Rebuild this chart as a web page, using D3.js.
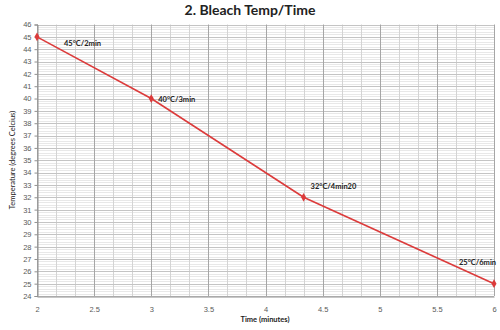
<!DOCTYPE html>
<html>
<head>
<meta charset="utf-8">
<script src="https://cdn.jsdelivr.net/npm/d3@7"></script>
<style>
  html, body { margin: 0; padding: 0; background: #fff; }
  svg { display: block; font-family: Lato, "Open Sans", "Liberation Sans", sans-serif; }
</style>
</head>
<body>
<svg id="chart" width="500" height="330"></svg>
<script>
// Bleach step: temperature against elapsed time
const times = [2, 3, 4 + 20 / 60, 6];
const temps = [45, 40, 32, 25];
const pointLabels = ["45°C/2min", "40°C/3min", "32°C/4min20", "25°C/6min"];
const xTicks = [2, 2.5, 3, 3.5, 4, 4.5, 5, 5.5, 6];
const yTicks = d3.range(24, 47, 1);

const svg = d3.select("#chart");
const margin = { left: 37, right: 6, top: 24.5, bottom: 34 };
const W = 500, H = 330;

const x = d3.scaleLinear().domain([2, 6]).range([margin.left, W - margin.right]);
const y = d3.scaleLinear().domain([24, 46]).range([H - margin.bottom, margin.top]);

// minor gridlines: every 10 seconds across, every 0.2 degree up
const g = svg.append("g");
const minorX = d3.range(0, 25).map(i => 2 + i / 6).filter(v => Math.abs((v * 2) - Math.round(v * 2)) > 1e-6);
const minorY = d3.range(0, 111).map(i => 24 + i * 0.2).filter(v => Math.abs(v - Math.round(v)) > 1e-6);

g.selectAll(".minY").data(minorY).join("line")
  .attr("x1", x(2)).attr("x2", x(6))
  .attr("y1", d => Math.round(y(d)) + 0.5).attr("y2", d => Math.round(y(d)) + 0.5)
  .attr("stroke", "#e8e8e8").attr("stroke-width", 1);
g.selectAll(".minX").data(minorX).join("line")
  .attr("y1", y(24)).attr("y2", y(46))
  .attr("x1", d => Math.round(x(d)) + 0.5).attr("x2", d => Math.round(x(d)) + 0.5)
  .attr("stroke", "#d4d4d4").attr("stroke-width", 1);

// major gridlines
g.selectAll(".majY").data(yTicks).join("line")
  .attr("x1", x(2)).attr("x2", x(6))
  .attr("y1", d => Math.round(y(d)) + 0.5).attr("y2", d => Math.round(y(d)) + 0.5)
  .attr("stroke", "#c4c4c4").attr("stroke-width", 1);
g.selectAll(".majX").data(xTicks).join("line")
  .attr("y1", y(24)).attr("y2", y(46))
  .attr("x1", d => Math.round(x(d)) + 0.5).attr("x2", d => Math.round(x(d)) + 0.5)
  .attr("stroke", "#a6a6a6").attr("stroke-width", 1);

// axes
const yAxis = d3.axisLeft(y).tickValues(yTicks).tickSize(3).tickPadding(3).tickFormat(d3.format("d"));
const xAxis = d3.axisBottom(x).tickValues(xTicks).tickSize(0).tickPadding(10).tickFormat(d => String(d));

const ya = svg.append("g").attr("transform", `translate(${Math.round(x(2)) + 0.5},0)`).call(yAxis);
const xa = svg.append("g").attr("transform", `translate(0,${Math.round(y(24)) + 0.5})`).call(xAxis);
[ya, xa].forEach(a => {
  a.select(".domain").attr("stroke", "#909090");
  a.selectAll(".tick line").attr("stroke", "#909090");
  a.selectAll("text").attr("fill", "#5a5a5a").attr("font-size", 7.5);
});

// title and axis titles
svg.append("text").attr("x", 250).attr("y", 15).attr("text-anchor", "middle")
  .attr("font-size", 14).attr("font-weight", "bold").attr("fill", "#222")
  .text("2. Bleach Temp/Time");
svg.append("text").attr("x", 265).attr("y", 322).attr("text-anchor", "middle")
  .attr("font-size", 7.5).attr("font-weight", "bold").attr("fill", "#222")
  .text("Time (minutes)");
svg.append("text").attr("transform", "translate(15,160) rotate(-90)").attr("text-anchor", "middle")
  .attr("font-size", 7.5).attr("fill", "#222")
  .text("Temperature (degrees Celcius)");

// data line and markers
const pts = times.map((t, i) => ({ t, v: temps[i], label: pointLabels[i] }));
const red = "#dc3b3b";
svg.append("path").datum(pts)
  .attr("d", d3.line().x(d => x(d.t)).y(d => y(d.v)))
  .attr("fill", "none").attr("stroke", red).attr("stroke-width", 1.6);
svg.selectAll(".pt").data(pts).join("path")
  .attr("transform", d => `translate(${x(d.t)},${y(d.v)})`)
  .attr("d", d3.symbol(d3.symbolDiamond, 22))
  .attr("fill", red);

// point labels
const offsets = [[27, 9], [7, 3], [7, -8], [-35, -19]];
svg.selectAll(".lbl").data(pts).join("text")
  .attr("x", (d, i) => x(d.t) + offsets[i][0])
  .attr("y", (d, i) => y(d.v) + offsets[i][1])
  .attr("font-size", 7.5).attr("font-weight", "bold").attr("fill", "#222")
  .text(d => d.label);
</script>
</body>
</html>
